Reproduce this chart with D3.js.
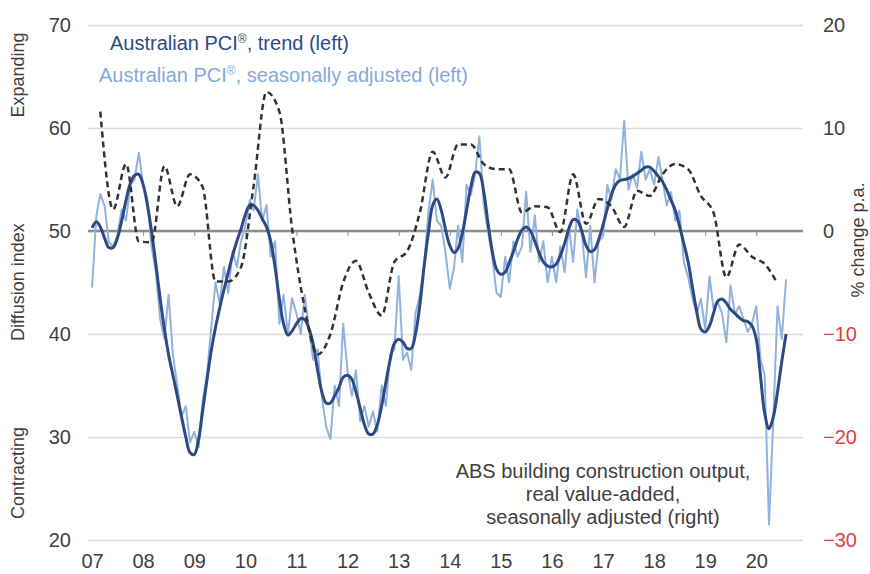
<!DOCTYPE html>
<html>
<head>
<meta charset="utf-8">
<script src="https://cdn.jsdelivr.net/npm/d3@7"></script>
<style>
  body { margin: 0; background: #fff; }
  svg text { font-family: Arial, "Liberation Sans", sans-serif; }
</style>
</head>
<body>
<div id="chart"></div>
<script>
// monthly PCI, Jan 2007 - Aug 2020
var pciTrend = [
    50.3, 50.9, 50.4, 49.3, 48.4, 48.4, 49.3, 51.0, 53.0, 54.6, 55.4, 55.5,
    54.5, 52.5, 50.0, 46.8, 43.5, 40.5, 38.0, 36.0, 34.0, 32.0, 30.0, 28.5,
    28.3, 29.8, 32.5, 35.5, 38.3, 40.6, 42.5, 44.3, 46.0, 47.6, 49.0, 50.2,
    51.6, 52.5, 52.5, 52.0, 51.2, 50.4, 49.0, 46.5, 43.4, 41.0, 39.9, 40.3,
    41.0, 41.5, 41.4, 40.5, 39.0, 36.5, 34.4, 33.3, 33.3, 34.0, 34.8, 35.8,
    36.0, 35.6, 34.4, 32.8, 31.2, 30.3, 30.3, 31.2, 33.0, 35.3, 37.5, 39.1,
    39.5, 39.2, 38.6, 38.6, 40.0, 42.8, 46.5, 49.8, 52.5, 53.1, 52.0, 50.2,
    48.6, 47.9, 48.3, 49.8, 52.0, 54.3, 55.7, 55.6, 53.8, 50.8, 48.0, 46.3,
    45.8, 46.0, 46.9, 48.0, 49.2, 50.1, 50.4, 50.0, 49.0, 47.9, 47.0, 46.6,
    46.5, 46.8, 47.6, 48.8, 50.2, 51.1, 51.0, 50.0, 48.6, 48.0, 48.2, 49.2,
    50.6, 52.2, 53.5, 54.5, 54.9, 55.0, 55.1, 55.3, 55.6, 55.9, 56.2, 56.2,
    55.8, 55.3, 54.8, 54.0, 53.0, 52.0, 50.5, 48.8, 47.0, 44.6, 42.2, 40.5,
    40.2, 40.8, 42.0, 43.2, 43.4, 43.0, 42.4, 42.0, 41.6, 41.3, 41.2, 40.8,
    39.5, 35.8, 32.3, 30.8, 31.9, 34.4, 37.3, 40.0
];
var pciSA = [
    44.5, 51.5, 53.6, 52.4, 48.9, 48.5, 49.6, 52.1, 51.0, 54.5, 55.0, 57.6,
    54.5, 53.0, 48.5, 46.0, 41.5, 39.5, 43.8, 38.0, 35.0, 32.0, 33.0, 29.5,
    30.5, 29.0, 33.5, 36.0, 40.5, 45.0, 43.0, 46.5, 44.0, 48.0, 46.5, 49.0,
    50.5, 53.0, 52.0, 55.5, 51.0, 52.5, 47.5, 49.0, 41.0, 43.8, 40.0, 43.5,
    42.0, 40.0, 43.8, 40.5, 37.5, 38.5, 34.0, 31.0, 29.8, 35.0, 33.0, 41.0,
    36.5, 34.0, 36.5, 31.5, 33.0, 31.0, 32.5, 30.5, 35.0, 33.0, 38.0, 38.5,
    45.6, 37.5, 38.2, 36.5, 42.0, 43.8, 46.5, 51.8, 55.0, 51.0, 50.5, 48.0,
    44.4, 46.5, 50.5, 47.0, 54.5, 53.5, 55.5, 59.2, 52.5, 50.0, 47.5, 44.0,
    43.6, 47.5, 45.0, 49.0, 47.5, 48.5, 53.8, 48.0, 51.5, 47.0, 49.0, 45.0,
    47.5, 45.0, 48.5, 46.0, 50.5, 47.0, 52.1, 50.0, 45.5, 50.5, 45.0, 49.0,
    49.5, 54.5, 53.0, 56.0, 55.0, 60.7, 54.0, 55.5, 54.2, 57.7, 55.0, 56.0,
    54.5, 57.2, 55.0, 52.5, 53.8, 51.0, 52.0, 47.0, 45.5, 43.5, 42.0, 43.4,
    40.5, 45.6, 42.5, 43.1, 42.0, 39.2, 44.7, 42.0, 42.7, 41.5, 40.2, 41.0,
    42.7, 37.5, 36.0, 21.5, 31.5, 42.7, 39.5, 45.3
];
// quarterly ABS construction output, % change p.a., Mar 2007 - Jun 2020
var absOutput = [
    11.6, 2.1, 6.5, -1.0,
    -1.1, 6.3, 2.4, 5.5,
    4.3, -4.9, -4.9, -3.5,
    4.4, 13.5, 11.6, 0.2,
    -7.5, -12.0, -10.0, -5.0,
    -2.9, -6.0, -8.2, -3.0,
    -2.0, 1.8, 7.7, 5.2,
    8.4, 8.4, 6.5, 6.0,
    6.0, 1.8, 2.4, 2.3,
    -0.1, 5.5, 0.7, 3.1,
    2.4, 0.4, 3.9, 3.4,
    5.5, 6.5, 6.0, 3.4,
    1.8, -4.5, -1.3, -2.5,
    -3.2, -5.1
];
var yearLabels = ["07", "08", "09", "10", "11", "12", "13", "14", "15", "16", "17", "18", "19", "20"];
var leftTicks = [20, 30, 40, 50, 60, 70];
var rightTicks = [20, 10, 0, -10, -20, -30];
var annotation = ["ABS building construction output,", "real value-added,", "seasonally adjusted (right)"];

var width = 870, height = 574;
var plot = {left: 88, right: 803, top: 25, bottom: 540};
var textColor = "#404040";

var svg = d3.select("#chart").append("svg")
    .attr("width", width)
    .attr("height", height);

var x = d3.scaleTime()
    .domain([new Date(2006, 11, 3), new Date(2020, 10, 30)])
    .range([plot.left, plot.right]);
var yL = d3.scaleLinear().domain([20, 70]).range([plot.bottom, plot.top]);
var yR = d3.scaleLinear().domain([-30, 20]).range([plot.bottom, plot.top]);

var monthly = function(arr) {
    return arr.map(function(v, i) { return {date: new Date(2007, i, 1), value: v}; });
};
var trendData = monthly(pciTrend);
var saData = monthly(pciSA);
var absData = absOutput.map(function(v, i) { return {date: new Date(2007, 2 + 3 * i, 1), value: v}; });
var yearDates = yearLabels.map(function(d, i) { return new Date(2007 + i, 0, 1); });

// gridlines
svg.append("g")
    .attr("transform", "translate(" + plot.left + ",0)")
    .call(d3.axisLeft(yL).tickValues(leftTicks).tickSize(-(plot.right - plot.left)).tickFormat(""))
    .call(function(g) { g.select(".domain").remove(); })
    .selectAll("line")
    .attr("stroke", "#dcdcdc")
    .attr("stroke-width", 1.5);

// zero line with year ticks
svg.append("g")
    .attr("transform", "translate(0," + yR(0) + ")")
    .call(d3.axisBottom(x).tickValues(yearDates.slice(1)).tickSize(5).tickFormat(""))
    .call(function(g) {
        g.select(".domain").attr("stroke", "#8c8c8c").attr("stroke-width", 2.5)
            .attr("d", "M" + plot.left + ",0H" + plot.right);
        g.selectAll("line").attr("stroke", "#8c8c8c").attr("stroke-width", 1);
    });

// x labels
svg.append("g")
    .attr("transform", "translate(0," + (plot.bottom + 11) + ")")
    .call(d3.axisBottom(x).tickValues(yearDates).tickSize(0).tickFormat(function(d, i) { return yearLabels[i]; }))
    .call(function(g) { g.select(".domain").remove(); })
    .selectAll("text")
    .attr("font-size", 20)
    .attr("fill", textColor);

// left axis labels
svg.append("g")
    .attr("transform", "translate(" + (plot.left - 14) + ",0)")
    .call(d3.axisLeft(yL).tickValues(leftTicks).tickSize(0))
    .call(function(g) { g.select(".domain").remove(); })
    .selectAll("text")
    .attr("font-size", 20)
    .attr("fill", textColor);

// right axis labels, negatives in red
svg.append("g")
    .attr("transform", "translate(" + (plot.right + 17) + ",0)")
    .call(d3.axisRight(yR).tickValues(rightTicks).tickSize(0))
    .call(function(g) { g.select(".domain").remove(); })
    .selectAll("text")
    .attr("font-size", 20)
    .attr("fill", function(d) { return d < 0 ? "#e03c3c" : textColor; });

// side titles
var sideTitle = function(txt, cx, cy) {
    svg.append("text")
        .attr("transform", "translate(" + cx + "," + cy + ")rotate(-90)")
        .attr("text-anchor", "middle")
        .attr("dominant-baseline", "central")
        .attr("font-size", 18)
        .attr("fill", textColor)
        .text(txt);
};
sideTitle("Expanding", 18, 75);
sideTitle("Diffusion index", 18, 282);
sideTitle("Contracting", 18, 473);
sideTitle("% change p.a.", 858, 240);

// series
var lineL = d3.line()
    .x(function(d) { return x(d.date); })
    .y(function(d) { return yL(d.value); });
var lineTrend = d3.line()
    .curve(d3.curveCatmullRom)
    .x(function(d) { return x(d.date); })
    .y(function(d) { return yL(d.value); });
var lineR = d3.line()
    .curve(d3.curveMonotoneX)
    .x(function(d) { return x(d.date); })
    .y(function(d) { return yR(d.value); });

svg.append("path")
    .attr("d", lineL(saData))
    .attr("fill", "none")
    .attr("stroke", "#92b2de")
    .attr("stroke-width", 2)
    .attr("stroke-linejoin", "round");

svg.append("path")
    .attr("d", lineTrend(trendData))
    .attr("fill", "none")
    .attr("stroke", "#2e4a85")
    .attr("stroke-width", 3);

svg.append("path")
    .attr("d", lineR(absData))
    .attr("fill", "none")
    .attr("stroke", "#333333")
    .attr("stroke-width", 2.5)
    .attr("stroke-dasharray", "6,4");

// legend
var legendItem = function(x0, y0, color, rest) {
    var t = svg.append("text")
        .attr("x", x0)
        .attr("y", y0)
        .attr("font-size", 20)
        .attr("fill", color);
    t.append("tspan").text("Australian PCI");
    t.append("tspan").attr("font-size", 12).attr("dy", -7).text("®");
    t.append("tspan").attr("dy", 7).text(rest);
};
legendItem(110, 50, "#2e4a85", ", trend (left)");
legendItem(99, 82, "#86a9da", ", seasonally adjusted (left)");

// annotation for the dashed series
svg.append("g").selectAll("text")
    .data(annotation)
    .enter().append("text")
    .attr("x", 603)
    .attr("y", function(d, i) { return 478 + i * 23; })
    .attr("text-anchor", "middle")
    .attr("font-size", 20)
    .attr("fill", textColor)
    .text(function(d) { return d; });
</script>
</body>
</html>
